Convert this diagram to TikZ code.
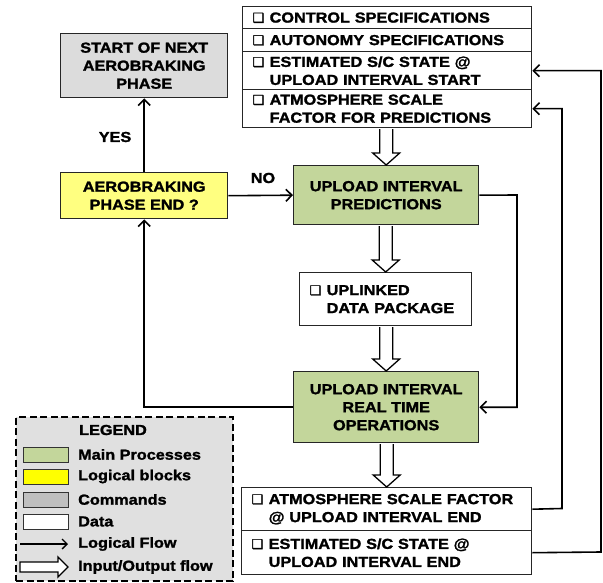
\documentclass[tikz,border=0pt]{standalone}
\usepackage{fontspec}
\setmainfont{Liberation Sans}[FakeStretch=1.12, BoldFeatures={FakeBold=1.6}]
\newfontfamily\dejavu{DejaVu Sans}[FakeBold=1.5]
\usetikzlibrary{arrows.meta,calc}
\definecolor{procgreen}{HTML}{C3D69B}
\definecolor{logyellow}{HTML}{FFFF80}
\definecolor{cmdgray}{HTML}{DCDCDC}
\definecolor{leggray}{HTML}{E0E0E0}
\definecolor{swgray}{HTML}{BFBFBF}
\definecolor{swyellow}{HTML}{FFFF00}
\newcommand\sqb{\makebox[17pt][l]{\raisebox{0.3pt}{\dejavu\fontsize{13}{13}\selectfont ❑}}}
\newcommand\indt{\hspace*{17pt}}
\newcommand\ioflow[2]{%
  \draw[iof] let \p1=(#1.south), \p2=(#2.north) in
    (\x2-6.5pt,\y1-0.7pt) -- (\x2-6.5pt,\y2+12pt) -- (\x2-13.5pt,\y2+12pt) -- (\x2,\y2)
    -- (\x2+13.5pt,\y2+12pt) -- (\x2+6.5pt,\y2+12pt) -- (\x2+6.5pt,\y1-0.7pt);}
\begin{document}
\begin{tikzpicture}[x=1pt,y=-1pt,
  font=\fontsize{14.5}{18}\selectfont\bfseries,
  bx/.style n args={2}{draw=black!85, line width=1.4pt, rectangle, anchor=north west,
     inner sep=0pt, minimum width=#1, minimum height=#2},
  databox/.style n args={2}{bx={#1}{#2}, fill=white, text width=#1-20pt, align=left},
  cbox/.style n args={2}{bx={#1}{#2}, align=center},
  lflow/.style={draw=black, line width=1.6pt, -{Straight Barb[length=6pt,width=12pt]}},
  iof/.style={draw=black, fill=white, line width=1.3pt, line join=miter},
  lbl/.style={inner sep=0pt},
  swatch/.style={draw=black!80, line width=1.3pt, minimum width=45pt, minimum height=15pt, inner sep=0pt, anchor=north west}
]
\useasboundingbox (0,0) rectangle (603,583);

% top data box
\node[databox={289pt}{22pt}] (r1) at (242,6) {\sqb CONTROL SPECIFICATIONS};
\node[databox={289pt}{23pt}] (r2) at (242,28) {\sqb AUTONOMY SPECIFICATIONS};
\node[databox={289pt}{38pt}] (r3) at (242,51) {\sqb ESTIMATED S/C STATE @\\\indt UPLOAD INTERVAL START};
\node[databox={289pt}{38pt}] (r4) at (242,89) {\sqb ATMOSPHERE SCALE\\\indt FACTOR FOR PREDICTIONS};

% left column
\node[cbox={167pt}{64pt}, fill=cmdgray] (start) at (60,33) {START OF NEXT\\AEROBRAKING\\PHASE};
\node[cbox={167pt}{46pt}, fill=logyellow] (aero) at (60,172) {AEROBRAKING\\PHASE END ?};

% processes
\node[cbox={185pt}{59pt}, fill=procgreen] (pred) at (293,165) {UPLOAD INTERVAL\\PREDICTIONS};
\node[databox={172pt}{53pt}] (upl) at (299,272) {\sqb UPLINKED\\\indt DATA PACKAGE};
\node[cbox={185pt}{71pt}, fill=procgreen] (real) at (293,371) {UPLOAD INTERVAL\\REAL TIME\\OPERATIONS};

% bottom data box
\node[databox={290pt}{43pt}] (b1) at (241,487) {\sqb ATMOSPHERE SCALE FACTOR\\\indt @ UPLOAD INTERVAL END};
\node[databox={290pt}{44pt}] (b2) at (241,530) {\sqb ESTIMATED S/C STATE @\\\indt UPLOAD INTERVAL END};

% input/output flows
\ioflow{r4}{pred}
\ioflow{pred}{upl}
\ioflow{upl}{real}
\ioflow{real}{b1}

% logical flows
\draw[lflow] (aero.north) -- (start.south);
\node[lbl] (yes) at (115,137) {YES};
\draw[lflow] (aero.east) -- (pred.west);
\node[lbl] (no) at (263,178) {NO};
\draw[lflow] (pred.east) -- (517,195) |- (real.east);
\draw[lflow] (real.west) -| (aero.south);
\draw[lflow] (b1.east) -- (562,508.5) |- (r4.east);
\draw[lflow] (b2.east) -- (601,552) |- (r3.east);

% legend
\node[draw=black, dashed, dash pattern=on 7pt off 3.5pt, line width=2.4pt, fill=leggray,
      minimum width=217pt, minimum height=164pt, anchor=north west, inner sep=0pt] (legend) at (15,416) {};
\node[lbl] (legt) at (113,430) {LEGEND};
\node[swatch, fill=procgreen] (sw1) at (23,447) {};
\node[swatch, fill=swyellow] (sw2) at (23,469) {};
\node[swatch, fill=swgray] (sw3) at (23,492) {};
\node[swatch, fill=white] (sw4) at (23,514) {};
\node[lbl, anchor=west] (t1) at (78,454.5) {Main Processes};
\node[lbl, anchor=west] (t2) at (78,476.5) {Logical blocks};
\node[lbl, anchor=west] (t3) at (78,499.5) {Commands};
\node[lbl, anchor=west] (t4) at (78,521.5) {Data};
\node[lbl, anchor=west] (t5) at (78,544) {Logical Flow};
\node[lbl, anchor=west] (t6) at (78,567) {Input/Output flow};
\coordinate (lf1) at (20,544);
\coordinate (lf2) at (68,544);
\draw[draw=black, line width=1.3pt, -{Straight Barb[length=5pt,width=10pt]}] (lf1) -- (lf2);
\coordinate (io1) at (20,567);
\coordinate (io2) at (68,567);
\draw[iof] let \p1=(io1), \p2=(io2) in
  (\x1,\y1+5pt) -- (\x2-10pt,\y1+5pt) -- (\x2-10pt,\y1+10pt) -- (\x2,\y1)
  -- (\x2-10pt,\y1-10pt) -- (\x2-10pt,\y1-5pt) -- (\x1,\y1-5pt) -- cycle;
\end{tikzpicture}
\end{document}
